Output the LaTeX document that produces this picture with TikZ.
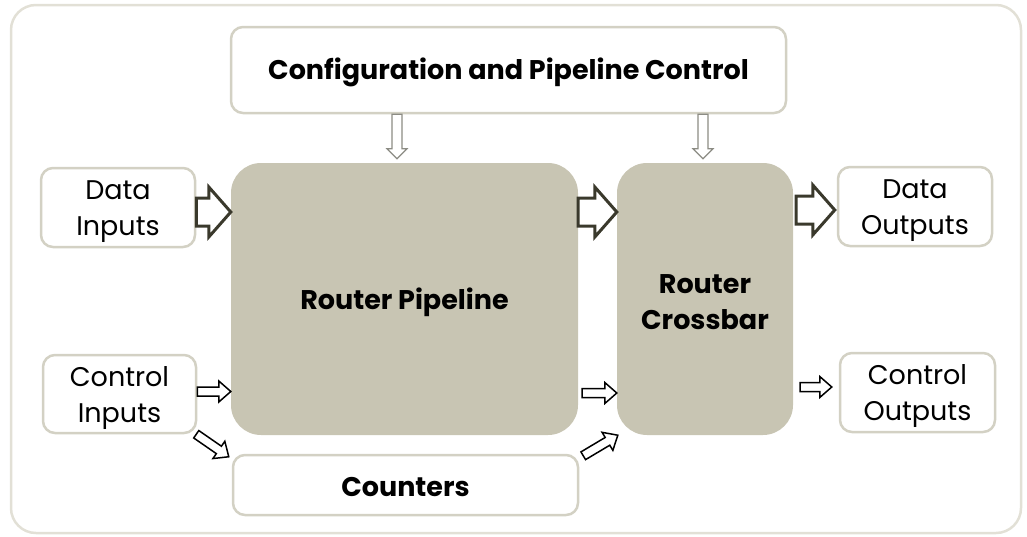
\documentclass[tikz,border=0pt]{standalone}
\usepackage{fontspec}
\setmainfont{Poppins}
\usetikzlibrary{calc}

\definecolor{frameC}{HTML}{E2E0D6}
\definecolor{edgeC}{HTML}{D3D1C4}
\definecolor{blockC}{HTML}{C8C5B3}
\definecolor{darkC}{HTML}{3A392C}
\definecolor{greyC}{HTML}{8C8C84}

% hollow block arrow: style, tail, tip, half shaft width, half head width, head length
\newcommand\blockarrow[6]{%
  \draw[#1] let \p1=(#2), \p2=(#3),
    \n1={atan2(\y2-\y1,\x2-\x1)}, \n2={veclen(\x2-\x1,\y2-\y1)} in
    ($(\p1)+(\n1+90:#4)$) -- ++(\n1:\n2-#6) -- ++(\n1+90:#5-#4) -- (\p2)
    -- ($(\p2)+(\n1+180:#6)+(\n1-90:#5)$) -- ++(\n1+90:#5-#4)
    -- ++(\n1+180:\n2-#6) -- cycle;}

\tikzset{
  lightbox/.style={draw=edgeC, line width=2.5pt, fill=white, rounded corners=12pt, inner sep=0pt},
  blockbox/.style={fill=blockC, rounded corners=30pt, inner sep=0pt},
  plaintext/.style={align=center, inner sep=0pt, font=\fontsize{27}{36}\selectfont},
  boldtext/.style={align=center, inner sep=0pt, font=\bfseries\fontsize{27}{36}\selectfont},
  bigarrow/.style={draw=darkC, fill=white, line width=3pt, line join=miter},
  smallarrow/.style={draw=black, fill=white, line width=1.5pt, line join=miter},
  downarrow/.style={draw=greyC, fill=white, line width=1.2pt, line join=miter},
}

\begin{document}
\begin{tikzpicture}[x=1pt, y=-1pt]
  \useasboundingbox (0,0) rectangle (1027,536);
  \draw[frameC, line width=2.5pt, rounded corners=25pt] (11,5) rectangle (1021,533);

  % blocks
  \node[lightbox, minimum width=555pt, minimum height=86pt] (cfg) at (508.5,70) {};
  \node[lightbox, minimum width=154pt, minimum height=79pt] (din) at (118,207.5) {};
  \node[lightbox, minimum width=153pt, minimum height=78pt] (cin) at (119.5,394) {};
  \node[blockbox, minimum width=347pt, minimum height=272pt] (rp) at (404.5,299) {};
  \node[blockbox, minimum width=176pt, minimum height=272pt] (rc) at (705,299) {};
  \node[lightbox, minimum width=345pt, minimum height=60pt] (cnt) at (405.5,485) {};
  \node[lightbox, minimum width=154pt, minimum height=79pt] (dout) at (915,206.5) {};
  \node[lightbox, minimum width=155pt, minimum height=79pt] (cout) at (917.5,392.5) {};

  % block captions
  \node[boldtext] (cfgT) at ([yshift=-2pt]cfg) {Configuration and Pipeline Control};
  \node[plaintext] (dinT) at ([yshift=-4pt]din) {Data\\Inputs};
  \node[plaintext] (cinT) at ([yshift=-4pt]cin) {Control\\Inputs};
  \node[boldtext] (rpT) at ([yshift=-3pt]rp) {Router Pipeline};
  \node[boldtext] (rcT) at ([yshift=-3pt]rc) {Router\\Crossbar};
  \node[boldtext] (cntT) at ([yshift=-2pt]cnt) {Counters};
  \node[plaintext] (doutT) at ([yshift=-4pt]dout) {Data\\Outputs};
  \node[plaintext] (coutT) at ([yshift=-4pt]cout) {Control\\Outputs};

  % data path
  \blockarrow{bigarrow}{[yshift=-4.5pt]din.east}{[yshift=-4.5pt]rp.west |- din.east}{14pt}{25pt}{22pt}
  \blockarrow{bigarrow}{[yshift=87pt]rp.east}{[yshift=87pt]rc.west}{14pt}{25pt}{22pt}
  \blockarrow{bigarrow}{[xshift=3pt,yshift=89pt]rc.east}{[xshift=-2pt,yshift=89pt]dout.west |- rc.east}{14pt}{25pt}{22pt}

  % control path
  \blockarrow{smallarrow}{[yshift=2.5pt]cin.east}{[yshift=2.5pt]rp.west |- cin.east}{4.5pt}{10.5pt}{12pt}
  \blockarrow{smallarrow}{[xshift=4pt,yshift=-94pt]rp.east}{[yshift=-94pt]rc.west}{4.5pt}{10.5pt}{12pt}
  \blockarrow{smallarrow}{[xshift=7pt,yshift=-88pt]rc.east}{[xshift=-7pt,yshift=-88pt]cout.west |- rc.east}{4.5pt}{10.5pt}{12pt}
  \blockarrow{smallarrow}{[xshift=-1pt]cin.south east}{[xshift=-3pt,yshift=-3pt]cnt.north west}{4.5pt}{10.5pt}{12pt}
  \blockarrow{smallarrow}{[xshift=4pt,yshift=-2pt]cnt.north east}{[xshift=1pt]rc.south west}{4.5pt}{10.5pt}{12pt}

  % configuration
  \blockarrow{downarrow}{cfg.south -| 397,0}{[yshift=4pt]rp.north -| 397,0}{5pt}{10pt}{10pt}
  \blockarrow{downarrow}{cfg.south -| 703,0}{[yshift=4pt]rc.north -| 703,0}{5pt}{10pt}{10pt}
\end{tikzpicture}
\end{document}
